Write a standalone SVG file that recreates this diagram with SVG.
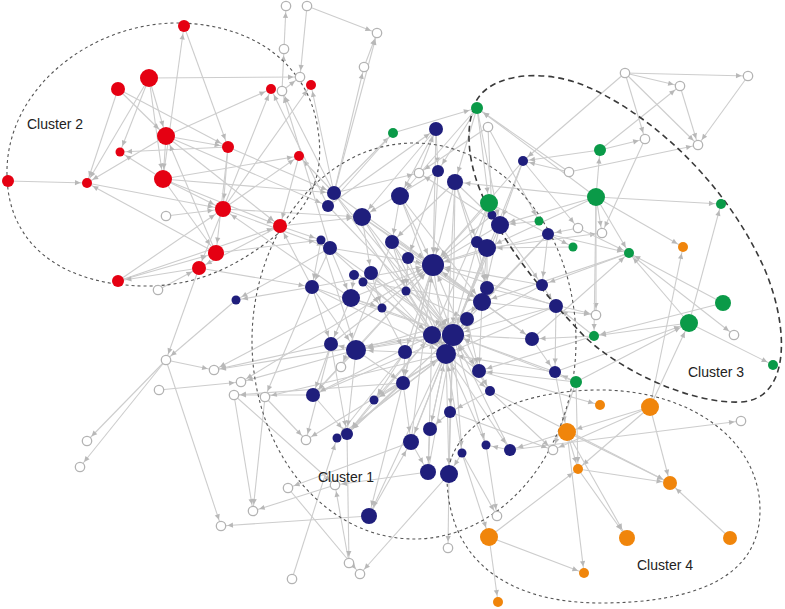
<svg xmlns="http://www.w3.org/2000/svg" width="785" height="609" viewBox="0 0 785 609">
<style>
#edges line{stroke:#cdcdcd;stroke-width:1.1}
.m5{marker-end:url(#k5)}.m7{marker-end:url(#k7)}.m9{marker-end:url(#k9)}.m11{marker-end:url(#k11)}
.cl{fill:none;stroke:#555;stroke-width:1.1;stroke-dasharray:3 3}
.cl3{fill:none;stroke:#3a3a3a;stroke-width:1.6;stroke-dasharray:6 4}
.R{fill:#e50012}.B{fill:#1f1e7c}.G{fill:#0a9a48}.O{fill:#f0850b}
.H{fill:#fff;stroke:#b3b3b3;stroke-width:1.3}
.lab{font-family:"Liberation Sans",Arial,sans-serif;font-size:14px;fill:#222}
</style>
<defs>
<marker id="k5" viewBox="-18 -4 18 8" markerWidth="18" markerHeight="8" refX="0" refY="0" orient="auto" markerUnits="userSpaceOnUse"><path d="M-12,-2.6 L-6.5,0 L-12,2.6 z" fill="#b8b8b8"/></marker>
<marker id="k7" viewBox="-18 -4 18 8" markerWidth="18" markerHeight="8" refX="0" refY="0" orient="auto" markerUnits="userSpaceOnUse"><path d="M-13.5,-2.6 L-8,0 L-13.5,2.6 z" fill="#b8b8b8"/></marker>
<marker id="k9" viewBox="-18 -4 18 8" markerWidth="18" markerHeight="8" refX="0" refY="0" orient="auto" markerUnits="userSpaceOnUse"><path d="M-15.5,-2.6 L-10,0 L-15.5,2.6 z" fill="#b8b8b8"/></marker>
<marker id="k11" viewBox="-18 -4 18 8" markerWidth="18" markerHeight="8" refX="0" refY="0" orient="auto" markerUnits="userSpaceOnUse"><path d="M-17.5,-2.6 L-12,0 L-17.5,2.6 z" fill="#b8b8b8"/></marker>
</defs>
<rect width="785" height="609" fill="#fff"/>
<g id="edges">
<line x1="184" y1="26" x2="228" y2="147" class="m7"/>
<line x1="163" y1="179" x2="184" y2="26" class="m7"/>
<line x1="149" y1="78" x2="300" y2="77" class="m5"/>
<line x1="149" y1="78" x2="87" y2="183" class="m5"/>
<line x1="149" y1="78" x2="120" y2="152" class="m5"/>
<line x1="149" y1="78" x2="163" y2="179" class="m9"/>
<line x1="149" y1="78" x2="166" y2="136" class="m9"/>
<line x1="118" y1="89" x2="87" y2="183" class="m5"/>
<line x1="118" y1="89" x2="228" y2="147" class="m7"/>
<line x1="118" y1="89" x2="166" y2="136" class="m9"/>
<line x1="166" y1="136" x2="87" y2="183" class="m5"/>
<line x1="228" y1="147" x2="120" y2="152" class="m5"/>
<line x1="163" y1="179" x2="120" y2="152" class="m5"/>
<line x1="8" y1="181" x2="87" y2="183" class="m5"/>
<line x1="216" y1="253" x2="87" y2="183" class="m5"/>
<line x1="166" y1="136" x2="271" y2="89" class="m5"/>
<line x1="223" y1="209" x2="271" y2="89" class="m5"/>
<line x1="223" y1="209" x2="311" y2="85" class="m5"/>
<line x1="163" y1="179" x2="299" y2="156" class="m5"/>
<line x1="223" y1="209" x2="299" y2="156" class="m5"/>
<line x1="166" y1="136" x2="163" y2="179" class="m9"/>
<line x1="228" y1="147" x2="223" y2="209" class="m9"/>
<line x1="228" y1="147" x2="216" y2="253" class="m9"/>
<line x1="163" y1="179" x2="223" y2="209" class="m9"/>
<line x1="163" y1="179" x2="216" y2="253" class="m9"/>
<line x1="163" y1="179" x2="280" y2="226" class="m7"/>
<line x1="166" y1="136" x2="280" y2="226" class="m7"/>
<line x1="118" y1="281" x2="216" y2="253" class="m9"/>
<line x1="118" y1="281" x2="223" y2="209" class="m9"/>
<line x1="118" y1="281" x2="280" y2="226" class="m7"/>
<line x1="158" y1="290" x2="199" y2="268" class="m7"/>
<line x1="166" y1="216" x2="223" y2="209" class="m9"/>
<line x1="280" y1="226" x2="199" y2="268" class="m7"/>
<line x1="223" y1="209" x2="199" y2="268" class="m7"/>
<line x1="216" y1="253" x2="166" y2="136" class="m9"/>
<line x1="199" y1="268" x2="118" y2="281" class="m7"/>
<line x1="87" y1="183" x2="223" y2="209" class="m9"/>
<line x1="166" y1="136" x2="228" y2="147" class="m7"/>
<line x1="299" y1="156" x2="280" y2="226" class="m7"/>
<line x1="223" y1="209" x2="362" y2="217" class="m9"/>
<line x1="280" y1="226" x2="321" y2="240" class="m5"/>
<line x1="334" y1="193" x2="299" y2="156" class="m5"/>
<line x1="334" y1="193" x2="311" y2="85" class="m5"/>
<line x1="334" y1="193" x2="282" y2="91" class="m5"/>
<line x1="328" y1="206" x2="271" y2="89" class="m5"/>
<line x1="334" y1="193" x2="364" y2="67" class="m5"/>
<line x1="334" y1="193" x2="377" y2="33" class="m5"/>
<line x1="282" y1="91" x2="284" y2="49" class="m5"/>
<line x1="284" y1="49" x2="286" y2="6" class="m5"/>
<line x1="307" y1="6" x2="377" y2="33" class="m5"/>
<line x1="307" y1="6" x2="300" y2="77" class="m5"/>
<line x1="364" y1="67" x2="377" y2="33" class="m5"/>
<line x1="282" y1="91" x2="300" y2="77" class="m5"/>
<line x1="163" y1="179" x2="334" y2="193" class="m7"/>
<line x1="166" y1="136" x2="328" y2="206" class="m7"/>
<line x1="228" y1="147" x2="334" y2="193" class="m7"/>
<line x1="223" y1="209" x2="330" y2="248" class="m7"/>
<line x1="216" y1="253" x2="321" y2="240" class="m5"/>
<line x1="280" y1="226" x2="362" y2="217" class="m9"/>
<line x1="199" y1="268" x2="312" y2="287" class="m7"/>
<line x1="312" y1="287" x2="280" y2="226" class="m7"/>
<line x1="351" y1="298" x2="223" y2="209" class="m9"/>
<line x1="330" y1="248" x2="282" y2="91" class="m5"/>
<line x1="334" y1="193" x2="393" y2="133" class="m5"/>
<line x1="328" y1="206" x2="436" y2="129" class="m7"/>
<line x1="393" y1="133" x2="328" y2="206" class="m7"/>
<line x1="236" y1="300" x2="166" y2="360" class="m5"/>
<line x1="166" y1="360" x2="87" y2="441" class="m5"/>
<line x1="166" y1="360" x2="80" y2="467" class="m5"/>
<line x1="166" y1="360" x2="221" y2="526" class="m5"/>
<line x1="199" y1="268" x2="166" y2="360" class="m5"/>
<line x1="159" y1="390" x2="241" y2="382" class="m5"/>
<line x1="166" y1="360" x2="214" y2="370" class="m5"/>
<line x1="312" y1="287" x2="236" y2="300" class="m5"/>
<line x1="330" y1="248" x2="236" y2="300" class="m5"/>
<line x1="331" y1="344" x2="214" y2="370" class="m5"/>
<line x1="313" y1="395" x2="234" y2="395" class="m5"/>
<line x1="356" y1="350" x2="241" y2="382" class="m5"/>
<line x1="265" y1="397" x2="253" y2="511" class="m5"/>
<line x1="312" y1="287" x2="265" y2="397" class="m5"/>
<line x1="331" y1="344" x2="306" y2="440" class="m5"/>
<line x1="335" y1="485" x2="253" y2="511" class="m5"/>
<line x1="288" y1="488" x2="360" y2="574" class="m5"/>
<line x1="369" y1="516" x2="221" y2="526" class="m5"/>
<line x1="292" y1="579" x2="337" y2="438" class="m5"/>
<line x1="449" y1="474" x2="360" y2="574" class="m5"/>
<line x1="349" y1="563" x2="335" y2="485" class="m5"/>
<line x1="411" y1="442" x2="288" y2="488" class="m5"/>
<line x1="347" y1="434" x2="349" y2="563" class="m5"/>
<line x1="392" y1="242" x2="341" y2="367" class="m5"/>
<line x1="405" y1="352" x2="337" y2="438" class="m5"/>
<line x1="403" y1="383" x2="347" y2="434" class="m7"/>
<line x1="428" y1="472" x2="335" y2="485" class="m5"/>
<line x1="369" y1="516" x2="411" y2="442" class="m9"/>
<line x1="351" y1="298" x2="214" y2="370" class="m5"/>
<line x1="403" y1="383" x2="234" y2="395" class="m5"/>
<line x1="446" y1="354" x2="265" y2="397" class="m5"/>
<line x1="234" y1="395" x2="253" y2="511" class="m5"/>
<line x1="234" y1="395" x2="335" y2="485" class="m5"/>
<line x1="265" y1="397" x2="306" y2="440" class="m5"/>
<line x1="433" y1="265" x2="241" y2="382" class="m5"/>
<line x1="432" y1="335" x2="214" y2="370" class="m5"/>
<line x1="446" y1="354" x2="306" y2="440" class="m5"/>
<line x1="433" y1="265" x2="369" y2="516" class="m9"/>
<line x1="453" y1="335" x2="369" y2="516" class="m9"/>
<line x1="400" y1="196" x2="433" y2="265" class="m11"/>
<line x1="400" y1="196" x2="453" y2="335" class="m11"/>
<line x1="334" y1="193" x2="433" y2="265" class="m11"/>
<line x1="334" y1="193" x2="453" y2="335" class="m11"/>
<line x1="334" y1="193" x2="446" y2="354" class="m11"/>
<line x1="328" y1="206" x2="453" y2="335" class="m11"/>
<line x1="362" y1="217" x2="453" y2="335" class="m11"/>
<line x1="362" y1="217" x2="433" y2="265" class="m11"/>
<line x1="362" y1="217" x2="482" y2="302" class="m9"/>
<line x1="362" y1="217" x2="446" y2="354" class="m11"/>
<line x1="330" y1="248" x2="453" y2="335" class="m11"/>
<line x1="330" y1="248" x2="433" y2="265" class="m11"/>
<line x1="321" y1="240" x2="446" y2="354" class="m11"/>
<line x1="392" y1="242" x2="453" y2="335" class="m11"/>
<line x1="392" y1="242" x2="446" y2="354" class="m11"/>
<line x1="438" y1="171" x2="433" y2="265" class="m11"/>
<line x1="455" y1="182" x2="453" y2="335" class="m11"/>
<line x1="455" y1="182" x2="433" y2="265" class="m11"/>
<line x1="455" y1="182" x2="446" y2="354" class="m11"/>
<line x1="436" y1="129" x2="433" y2="265" class="m11"/>
<line x1="436" y1="129" x2="400" y2="196" class="m9"/>
<line x1="436" y1="129" x2="362" y2="217" class="m9"/>
<line x1="438" y1="171" x2="362" y2="217" class="m9"/>
<line x1="455" y1="182" x2="500" y2="225" class="m9"/>
<line x1="455" y1="182" x2="392" y2="242" class="m7"/>
<line x1="492" y1="215" x2="433" y2="265" class="m11"/>
<line x1="500" y1="225" x2="453" y2="335" class="m11"/>
<line x1="500" y1="225" x2="433" y2="265" class="m11"/>
<line x1="487" y1="248" x2="453" y2="335" class="m11"/>
<line x1="487" y1="248" x2="446" y2="354" class="m11"/>
<line x1="548" y1="234" x2="453" y2="335" class="m11"/>
<line x1="548" y1="234" x2="482" y2="302" class="m9"/>
<line x1="548" y1="234" x2="433" y2="265" class="m11"/>
<line x1="487" y1="248" x2="433" y2="265" class="m11"/>
<line x1="408" y1="258" x2="446" y2="354" class="m11"/>
<line x1="408" y1="258" x2="482" y2="302" class="m9"/>
<line x1="433" y1="265" x2="446" y2="354" class="m11"/>
<line x1="433" y1="265" x2="482" y2="302" class="m9"/>
<line x1="433" y1="265" x2="403" y2="383" class="m7"/>
<line x1="433" y1="265" x2="405" y2="352" class="m7"/>
<line x1="371" y1="273" x2="453" y2="335" class="m11"/>
<line x1="371" y1="273" x2="446" y2="354" class="m11"/>
<line x1="363" y1="282" x2="432" y2="335" class="m9"/>
<line x1="312" y1="287" x2="453" y2="335" class="m11"/>
<line x1="312" y1="287" x2="433" y2="265" class="m11"/>
<line x1="312" y1="287" x2="446" y2="354" class="m11"/>
<line x1="351" y1="298" x2="433" y2="265" class="m11"/>
<line x1="351" y1="298" x2="453" y2="335" class="m11"/>
<line x1="406" y1="291" x2="446" y2="354" class="m11"/>
<line x1="487" y1="288" x2="446" y2="354" class="m11"/>
<line x1="542" y1="285" x2="453" y2="335" class="m11"/>
<line x1="542" y1="285" x2="433" y2="265" class="m11"/>
<line x1="482" y1="302" x2="432" y2="335" class="m9"/>
<line x1="556" y1="306" x2="453" y2="335" class="m11"/>
<line x1="556" y1="306" x2="446" y2="354" class="m11"/>
<line x1="467" y1="319" x2="356" y2="350" class="m11"/>
<line x1="432" y1="335" x2="356" y2="350" class="m11"/>
<line x1="453" y1="335" x2="356" y2="350" class="m11"/>
<line x1="446" y1="354" x2="356" y2="350" class="m11"/>
<line x1="532" y1="339" x2="453" y2="335" class="m11"/>
<line x1="532" y1="339" x2="433" y2="265" class="m11"/>
<line x1="479" y1="371" x2="432" y2="335" class="m9"/>
<line x1="479" y1="371" x2="433" y2="265" class="m11"/>
<line x1="555" y1="372" x2="453" y2="335" class="m11"/>
<line x1="555" y1="372" x2="446" y2="354" class="m11"/>
<line x1="490" y1="391" x2="453" y2="335" class="m11"/>
<line x1="313" y1="395" x2="453" y2="335" class="m11"/>
<line x1="313" y1="395" x2="433" y2="265" class="m11"/>
<line x1="374" y1="400" x2="446" y2="354" class="m11"/>
<line x1="450" y1="412" x2="453" y2="335" class="m11"/>
<line x1="430" y1="429" x2="446" y2="354" class="m11"/>
<line x1="411" y1="442" x2="453" y2="335" class="m11"/>
<line x1="411" y1="442" x2="433" y2="265" class="m11"/>
<line x1="486" y1="445" x2="446" y2="354" class="m11"/>
<line x1="510" y1="450" x2="453" y2="335" class="m11"/>
<line x1="462" y1="453" x2="446" y2="354" class="m11"/>
<line x1="428" y1="472" x2="453" y2="335" class="m11"/>
<line x1="449" y1="474" x2="453" y2="335" class="m11"/>
<line x1="347" y1="434" x2="432" y2="335" class="m9"/>
<line x1="337" y1="438" x2="446" y2="354" class="m11"/>
<line x1="331" y1="344" x2="433" y2="265" class="m11"/>
<line x1="356" y1="350" x2="433" y2="265" class="m11"/>
<line x1="330" y1="248" x2="351" y2="298" class="m9"/>
<line x1="321" y1="240" x2="356" y2="350" class="m11"/>
<line x1="312" y1="287" x2="356" y2="350" class="m11"/>
<line x1="400" y1="196" x2="482" y2="302" class="m9"/>
<line x1="392" y1="242" x2="482" y2="302" class="m9"/>
<line x1="363" y1="282" x2="482" y2="302" class="m9"/>
<line x1="500" y1="225" x2="482" y2="302" class="m9"/>
<line x1="487" y1="248" x2="482" y2="302" class="m9"/>
<line x1="556" y1="306" x2="433" y2="265" class="m11"/>
<line x1="523" y1="161" x2="433" y2="265" class="m11"/>
<line x1="523" y1="161" x2="446" y2="354" class="m11"/>
<line x1="523" y1="161" x2="500" y2="225" class="m9"/>
<line x1="455" y1="182" x2="487" y2="288" class="m7"/>
<line x1="432" y1="335" x2="313" y2="395" class="m7"/>
<line x1="453" y1="335" x2="347" y2="434" class="m7"/>
<line x1="446" y1="354" x2="337" y2="438" class="m5"/>
<line x1="453" y1="335" x2="411" y2="442" class="m9"/>
<line x1="446" y1="354" x2="430" y2="429" class="m7"/>
<line x1="453" y1="335" x2="450" y2="412" class="m7"/>
<line x1="432" y1="335" x2="428" y2="472" class="m9"/>
<line x1="446" y1="354" x2="449" y2="474" class="m9"/>
<line x1="453" y1="335" x2="462" y2="453" class="m5"/>
<line x1="453" y1="335" x2="486" y2="445" class="m5"/>
<line x1="446" y1="354" x2="510" y2="450" class="m7"/>
<line x1="446" y1="354" x2="490" y2="391" class="m5"/>
<line x1="453" y1="335" x2="479" y2="371" class="m7"/>
<line x1="432" y1="335" x2="374" y2="400" class="m5"/>
<line x1="356" y1="350" x2="313" y2="395" class="m7"/>
<line x1="356" y1="350" x2="331" y2="344" class="m7"/>
<line x1="351" y1="298" x2="331" y2="344" class="m7"/>
<line x1="312" y1="287" x2="331" y2="344" class="m7"/>
<line x1="356" y1="350" x2="347" y2="434" class="m7"/>
<line x1="405" y1="352" x2="403" y2="383" class="m7"/>
<line x1="403" y1="383" x2="411" y2="442" class="m9"/>
<line x1="411" y1="442" x2="428" y2="472" class="m9"/>
<line x1="450" y1="412" x2="449" y2="474" class="m9"/>
<line x1="430" y1="429" x2="428" y2="472" class="m9"/>
<line x1="462" y1="453" x2="449" y2="474" class="m9"/>
<line x1="400" y1="196" x2="392" y2="242" class="m7"/>
<line x1="362" y1="217" x2="371" y2="273" class="m7"/>
<line x1="408" y1="258" x2="406" y2="291" class="m5"/>
<line x1="371" y1="273" x2="382" y2="308" class="m5"/>
<line x1="382" y1="308" x2="405" y2="352" class="m7"/>
<line x1="406" y1="291" x2="467" y2="319" class="m7"/>
<line x1="487" y1="288" x2="467" y2="319" class="m7"/>
<line x1="482" y1="302" x2="479" y2="371" class="m7"/>
<line x1="467" y1="319" x2="479" y2="371" class="m7"/>
<line x1="556" y1="306" x2="555" y2="372" class="m7"/>
<line x1="542" y1="285" x2="556" y2="306" class="m7"/>
<line x1="548" y1="234" x2="542" y2="285" class="m7"/>
<line x1="532" y1="339" x2="555" y2="372" class="m7"/>
<line x1="479" y1="371" x2="490" y2="391" class="m5"/>
<line x1="405" y1="352" x2="374" y2="400" class="m5"/>
<line x1="403" y1="383" x2="374" y2="400" class="m5"/>
<line x1="374" y1="400" x2="347" y2="434" class="m7"/>
<line x1="313" y1="395" x2="347" y2="434" class="m7"/>
<line x1="331" y1="344" x2="313" y2="395" class="m7"/>
<line x1="354" y1="275" x2="351" y2="298" class="m9"/>
<line x1="330" y1="248" x2="312" y2="287" class="m7"/>
<line x1="321" y1="240" x2="312" y2="287" class="m7"/>
<line x1="392" y1="242" x2="406" y2="291" class="m5"/>
<line x1="477" y1="242" x2="487" y2="288" class="m7"/>
<line x1="455" y1="182" x2="477" y2="242" class="m7"/>
<line x1="438" y1="171" x2="408" y2="258" class="m7"/>
<line x1="436" y1="129" x2="438" y2="171" class="m7"/>
<line x1="500" y1="225" x2="542" y2="285" class="m7"/>
<line x1="487" y1="248" x2="487" y2="288" class="m7"/>
<line x1="482" y1="302" x2="532" y2="339" class="m7"/>
<line x1="450" y1="412" x2="430" y2="429" class="m7"/>
<line x1="510" y1="450" x2="486" y2="445" class="m5"/>
<line x1="490" y1="391" x2="450" y2="412" class="m7"/>
<line x1="363" y1="282" x2="382" y2="308" class="m5"/>
<line x1="331" y1="344" x2="347" y2="434" class="m7"/>
<line x1="356" y1="350" x2="403" y2="383" class="m7"/>
<line x1="351" y1="298" x2="382" y2="308" class="m5"/>
<line x1="489" y1="203" x2="433" y2="265" class="m11"/>
<line x1="489" y1="203" x2="432" y2="335" class="m9"/>
<line x1="489" y1="203" x2="446" y2="354" class="m11"/>
<line x1="539" y1="221" x2="500" y2="225" class="m9"/>
<line x1="573" y1="247" x2="487" y2="248" class="m9"/>
<line x1="596" y1="197" x2="500" y2="225" class="m9"/>
<line x1="596" y1="197" x2="455" y2="182" class="m9"/>
<line x1="596" y1="197" x2="487" y2="248" class="m9"/>
<line x1="629" y1="253" x2="482" y2="302" class="m9"/>
<line x1="629" y1="253" x2="542" y2="285" class="m7"/>
<line x1="594" y1="336" x2="532" y2="339" class="m7"/>
<line x1="594" y1="336" x2="556" y2="306" class="m7"/>
<line x1="576" y1="382" x2="555" y2="372" class="m7"/>
<line x1="576" y1="382" x2="479" y2="371" class="m7"/>
<line x1="576" y1="382" x2="453" y2="335" class="m11"/>
<line x1="689" y1="323" x2="594" y2="336" class="m5"/>
<line x1="723" y1="303" x2="594" y2="336" class="m5"/>
<line x1="689" y1="323" x2="773" y2="365" class="m5"/>
<line x1="689" y1="323" x2="629" y2="253" class="m5"/>
<line x1="723" y1="303" x2="629" y2="253" class="m5"/>
<line x1="629" y1="253" x2="734" y2="335" class="m5"/>
<line x1="689" y1="323" x2="721" y2="204" class="m5"/>
<line x1="650" y1="407" x2="689" y2="323" class="m9"/>
<line x1="650" y1="407" x2="683" y2="247" class="m5"/>
<line x1="596" y1="197" x2="683" y2="247" class="m5"/>
<line x1="596" y1="197" x2="629" y2="253" class="m5"/>
<line x1="596" y1="197" x2="602" y2="233" class="m5"/>
<line x1="596" y1="197" x2="596" y2="315" class="m5"/>
<line x1="596" y1="197" x2="594" y2="336" class="m5"/>
<line x1="596" y1="197" x2="721" y2="204" class="m5"/>
<line x1="596" y1="197" x2="600" y2="150" class="m7"/>
<line x1="596" y1="197" x2="477" y2="108" class="m7"/>
<line x1="600" y1="150" x2="680" y2="86" class="m5"/>
<line x1="600" y1="150" x2="645" y2="139" class="m5"/>
<line x1="600" y1="150" x2="523" y2="161" class="m5"/>
<line x1="569" y1="172" x2="523" y2="161" class="m5"/>
<line x1="569" y1="172" x2="698" y2="145" class="m5"/>
<line x1="569" y1="172" x2="477" y2="108" class="m7"/>
<line x1="625" y1="73" x2="523" y2="161" class="m5"/>
<line x1="625" y1="73" x2="748" y2="76" class="m5"/>
<line x1="625" y1="73" x2="680" y2="86" class="m5"/>
<line x1="625" y1="73" x2="698" y2="145" class="m5"/>
<line x1="625" y1="73" x2="645" y2="139" class="m5"/>
<line x1="680" y1="86" x2="698" y2="145" class="m5"/>
<line x1="748" y1="76" x2="698" y2="145" class="m5"/>
<line x1="645" y1="139" x2="602" y2="233" class="m5"/>
<line x1="393" y1="133" x2="477" y2="108" class="m7"/>
<line x1="488" y1="127" x2="419" y2="173" class="m5"/>
<line x1="419" y1="173" x2="436" y2="129" class="m7"/>
<line x1="477" y1="108" x2="489" y2="203" class="m9"/>
<line x1="477" y1="108" x2="455" y2="182" class="m9"/>
<line x1="477" y1="108" x2="438" y2="171" class="m7"/>
<line x1="477" y1="108" x2="500" y2="225" class="m9"/>
<line x1="477" y1="108" x2="400" y2="196" class="m9"/>
<line x1="488" y1="127" x2="492" y2="215" class="m5"/>
<line x1="488" y1="127" x2="539" y2="221" class="m5"/>
<line x1="548" y1="234" x2="629" y2="253" class="m5"/>
<line x1="523" y1="161" x2="578" y2="228" class="m5"/>
<line x1="487" y1="248" x2="602" y2="233" class="m5"/>
<line x1="482" y1="302" x2="596" y2="315" class="m5"/>
<line x1="487" y1="288" x2="596" y2="315" class="m5"/>
<line x1="594" y1="336" x2="479" y2="371" class="m7"/>
<line x1="489" y1="203" x2="573" y2="247" class="m5"/>
<line x1="578" y1="228" x2="548" y2="234" class="m7"/>
<line x1="578" y1="228" x2="629" y2="253" class="m5"/>
<line x1="532" y1="339" x2="629" y2="253" class="m5"/>
<line x1="555" y1="372" x2="689" y2="323" class="m9"/>
<line x1="576" y1="382" x2="689" y2="323" class="m9"/>
<line x1="500" y1="225" x2="419" y2="173" class="m5"/>
<line x1="334" y1="193" x2="419" y2="173" class="m5"/>
<line x1="650" y1="407" x2="670" y2="483" class="m7"/>
<line x1="730" y1="538" x2="670" y2="483" class="m7"/>
<line x1="578" y1="469" x2="670" y2="483" class="m7"/>
<line x1="567" y1="432" x2="670" y2="483" class="m7"/>
<line x1="650" y1="407" x2="578" y2="469" class="m5"/>
<line x1="650" y1="407" x2="567" y2="432" class="m9"/>
<line x1="489" y1="537" x2="584" y2="573" class="m5"/>
<line x1="489" y1="537" x2="498" y2="602" class="m5"/>
<line x1="489" y1="537" x2="578" y2="469" class="m5"/>
<line x1="567" y1="432" x2="584" y2="573" class="m5"/>
<line x1="567" y1="432" x2="578" y2="469" class="m5"/>
<line x1="578" y1="469" x2="627" y2="538" class="m9"/>
<line x1="567" y1="432" x2="627" y2="538" class="m9"/>
<line x1="510" y1="450" x2="741" y2="421" class="m5"/>
<line x1="490" y1="391" x2="670" y2="483" class="m7"/>
<line x1="479" y1="371" x2="600" y2="405" class="m5"/>
<line x1="650" y1="407" x2="553" y2="450" class="m5"/>
<line x1="462" y1="453" x2="489" y2="537" class="m9"/>
<line x1="462" y1="453" x2="497" y2="516" class="m5"/>
<line x1="486" y1="445" x2="497" y2="516" class="m5"/>
<line x1="449" y1="474" x2="448" y2="548" class="m5"/>
<line x1="450" y1="412" x2="553" y2="450" class="m5"/>
<line x1="490" y1="391" x2="553" y2="450" class="m5"/>
<line x1="576" y1="382" x2="553" y2="450" class="m5"/>
<line x1="576" y1="382" x2="578" y2="469" class="m5"/>
<line x1="555" y1="372" x2="567" y2="432" class="m9"/>
<line x1="567" y1="432" x2="510" y2="450" class="m7"/>
</g>
<g id="clusters">
<path class="cl" d="M7,175 C5,90 90,22 180,23 C260,25 310,70 318,130 C325,175 310,205 280,232 C240,265 200,285 150,286 C70,287 8,250 7,175 Z"/>
<ellipse class="cl" cx="414" cy="341" rx="162" ry="198"/>
<path class="cl3" d="M473,110 C480,75 540,65 590,88 C660,120 730,190 765,270 C790,330 790,400 740,402 C690,404 620,370 585,337 C540,290 500,240 480,190 C468,160 466,130 473,110 Z"/>
<path class="cl" d="M447,480 C450,420 520,390 600,390 C690,390 760,440 760,510 C760,580 690,603 600,603 C520,603 450,570 447,480 Z"/>
</g>
<g id="nodes">
<g id="r1"><circle class="R" cx="184" cy="26" r="6"/></g>
<g id="r2"><circle class="R" cx="149" cy="78" r="9"/></g>
<g id="r3"><circle class="R" cx="118" cy="89" r="7"/></g>
<g id="r4"><circle class="R" cx="166" cy="136" r="9"/></g>
<g id="r5"><circle class="R" cx="120" cy="152" r="4.5"/></g>
<g id="r6"><circle class="R" cx="228" cy="147" r="6"/></g>
<g id="r7"><circle class="R" cx="163" cy="179" r="9"/></g>
<g id="r8"><circle class="R" cx="8" cy="181" r="6"/></g>
<g id="r9"><circle class="R" cx="87" cy="183" r="5"/></g>
<g id="r10"><circle class="R" cx="223" cy="209" r="8"/></g>
<g id="r11"><circle class="R" cx="280" cy="226" r="7"/></g>
<g id="r12"><circle class="R" cx="216" cy="253" r="8"/></g>
<g id="r13"><circle class="R" cx="199" cy="268" r="7"/></g>
<g id="r14"><circle class="R" cx="118" cy="281" r="6"/></g>
<g id="r15"><circle class="R" cx="271" cy="89" r="5"/></g>
<g id="r16"><circle class="R" cx="311" cy="85" r="5"/></g>
<g id="r17"><circle class="R" cx="299" cy="156" r="5"/></g>
<g id="h1"><circle class="H" cx="286" cy="6" r="4.7"/></g>
<g id="h2"><circle class="H" cx="307" cy="6" r="4.7"/></g>
<g id="h3"><circle class="H" cx="377" cy="33" r="4.7"/></g>
<g id="h4"><circle class="H" cx="284" cy="49" r="4.7"/></g>
<g id="h5"><circle class="H" cx="364" cy="67" r="4.7"/></g>
<g id="h6"><circle class="H" cx="300" cy="77" r="4.7"/></g>
<g id="h7"><circle class="H" cx="282" cy="91" r="4.7"/></g>
<g id="h8"><circle class="H" cx="166" cy="216" r="4.7"/></g>
<g id="h9"><circle class="H" cx="158" cy="290" r="4.7"/></g>
<g id="h10"><circle class="H" cx="166" cy="360" r="4.7"/></g>
<g id="h11"><circle class="H" cx="159" cy="390" r="4.7"/></g>
<g id="h12"><circle class="H" cx="87" cy="441" r="4.7"/></g>
<g id="h13"><circle class="H" cx="80" cy="467" r="4.7"/></g>
<g id="h14"><circle class="H" cx="214" cy="370" r="4.7"/></g>
<g id="h15"><circle class="H" cx="241" cy="382" r="4.7"/></g>
<g id="h16"><circle class="H" cx="234" cy="395" r="4.7"/></g>
<g id="h17"><circle class="H" cx="265" cy="397" r="4.7"/></g>
<g id="h18"><circle class="H" cx="341" cy="367" r="4.7"/></g>
<g id="h19"><circle class="H" cx="306" cy="440" r="4.7"/></g>
<g id="h20"><circle class="H" cx="288" cy="488" r="4.7"/></g>
<g id="h21"><circle class="H" cx="253" cy="511" r="4.7"/></g>
<g id="h22"><circle class="H" cx="221" cy="526" r="4.7"/></g>
<g id="h23"><circle class="H" cx="335" cy="485" r="4.7"/></g>
<g id="h24"><circle class="H" cx="349" cy="563" r="4.7"/></g>
<g id="h25"><circle class="H" cx="360" cy="574" r="4.7"/></g>
<g id="h26"><circle class="H" cx="292" cy="579" r="4.7"/></g>
<g id="h27"><circle class="H" cx="448" cy="548" r="4.7"/></g>
<g id="h28"><circle class="H" cx="497" cy="516" r="4.7"/></g>
<g id="h29"><circle class="H" cx="553" cy="450" r="4.7"/></g>
<g id="h30"><circle class="H" cx="419" cy="173" r="4.7"/></g>
<g id="h31"><circle class="H" cx="488" cy="127" r="4.7"/></g>
<g id="h32"><circle class="H" cx="569" cy="172" r="4.7"/></g>
<g id="h33"><circle class="H" cx="578" cy="228" r="4.7"/></g>
<g id="h34"><circle class="H" cx="602" cy="233" r="4.7"/></g>
<g id="h35"><circle class="H" cx="596" cy="315" r="4.7"/></g>
<g id="h36"><circle class="H" cx="625" cy="73" r="4.7"/></g>
<g id="h37"><circle class="H" cx="680" cy="86" r="4.7"/></g>
<g id="h38"><circle class="H" cx="748" cy="76" r="4.7"/></g>
<g id="h39"><circle class="H" cx="645" cy="139" r="4.7"/></g>
<g id="h40"><circle class="H" cx="698" cy="145" r="4.7"/></g>
<g id="h41"><circle class="H" cx="734" cy="335" r="4.7"/></g>
<g id="h42"><circle class="H" cx="741" cy="421" r="4.7"/></g>
<g id="b1"><circle class="B" cx="436" cy="129" r="7"/></g>
<g id="b2"><circle class="B" cx="523" cy="161" r="5"/></g>
<g id="b3"><circle class="B" cx="438" cy="171" r="6"/></g>
<g id="b4"><circle class="B" cx="455" cy="182" r="8"/></g>
<g id="b5"><circle class="B" cx="400" cy="196" r="9"/></g>
<g id="b6"><circle class="B" cx="334" cy="193" r="7"/></g>
<g id="b7"><circle class="B" cx="328" cy="206" r="6"/></g>
<g id="b8"><circle class="B" cx="362" cy="217" r="9"/></g>
<g id="b9"><circle class="B" cx="321" cy="240" r="4.5"/></g>
<g id="b10"><circle class="B" cx="330" cy="248" r="7"/></g>
<g id="b11"><circle class="B" cx="392" cy="242" r="7"/></g>
<g id="b12"><circle class="B" cx="492" cy="215" r="4.5"/></g>
<g id="b13"><circle class="B" cx="500" cy="225" r="9"/></g>
<g id="b14"><circle class="B" cx="548" cy="234" r="6"/></g>
<g id="b15"><circle class="B" cx="477" cy="242" r="6"/></g>
<g id="b16"><circle class="B" cx="487" cy="248" r="9"/></g>
<g id="b17"><circle class="B" cx="408" cy="258" r="6"/></g>
<g id="b18"><circle class="B" cx="433" cy="265" r="11"/></g>
<g id="b19"><circle class="B" cx="354" cy="275" r="5"/></g>
<g id="b20"><circle class="B" cx="371" cy="273" r="7"/></g>
<g id="b21"><circle class="B" cx="363" cy="282" r="4.5"/></g>
<g id="b22"><circle class="B" cx="312" cy="287" r="7"/></g>
<g id="b23"><circle class="B" cx="351" cy="298" r="9"/></g>
<g id="b24"><circle class="B" cx="382" cy="308" r="4.5"/></g>
<g id="b25"><circle class="B" cx="406" cy="291" r="4.5"/></g>
<g id="b26"><circle class="B" cx="487" cy="288" r="7"/></g>
<g id="b27"><circle class="B" cx="542" cy="285" r="6"/></g>
<g id="b28"><circle class="B" cx="482" cy="302" r="9"/></g>
<g id="b29"><circle class="B" cx="556" cy="306" r="7"/></g>
<g id="b30"><circle class="B" cx="467" cy="319" r="7"/></g>
<g id="b31"><circle class="B" cx="432" cy="335" r="9"/></g>
<g id="b32"><circle class="B" cx="453" cy="335" r="11"/></g>
<g id="b33"><circle class="B" cx="331" cy="344" r="7"/></g>
<g id="b34"><circle class="B" cx="356" cy="350" r="10"/></g>
<g id="b35"><circle class="B" cx="405" cy="352" r="7"/></g>
<g id="b36"><circle class="B" cx="446" cy="354" r="10"/></g>
<g id="b37"><circle class="B" cx="532" cy="339" r="7"/></g>
<g id="b38"><circle class="B" cx="479" cy="371" r="7"/></g>
<g id="b39"><circle class="B" cx="555" cy="372" r="6"/></g>
<g id="b40"><circle class="B" cx="403" cy="383" r="7"/></g>
<g id="b41"><circle class="B" cx="490" cy="391" r="5"/></g>
<g id="b42"><circle class="B" cx="313" cy="395" r="7"/></g>
<g id="b43"><circle class="B" cx="374" cy="400" r="4.5"/></g>
<g id="b44"><circle class="B" cx="236" cy="300" r="4.5"/></g>
<g id="b45"><circle class="B" cx="450" cy="412" r="6"/></g>
<g id="b46"><circle class="B" cx="430" cy="429" r="7"/></g>
<g id="b47"><circle class="B" cx="411" cy="442" r="8"/></g>
<g id="b48"><circle class="B" cx="486" cy="445" r="4.5"/></g>
<g id="b49"><circle class="B" cx="510" cy="450" r="6"/></g>
<g id="b50"><circle class="B" cx="462" cy="453" r="4.5"/></g>
<g id="b51"><circle class="B" cx="428" cy="472" r="8"/></g>
<g id="b52"><circle class="B" cx="449" cy="474" r="9"/></g>
<g id="b53"><circle class="B" cx="347" cy="434" r="6"/></g>
<g id="b54"><circle class="B" cx="337" cy="438" r="4.5"/></g>
<g id="b55"><circle class="B" cx="369" cy="516" r="8"/></g>
<g id="g1"><circle class="G" cx="477" cy="108" r="6"/></g>
<g id="g2"><circle class="G" cx="393" cy="133" r="5"/></g>
<g id="g3"><circle class="G" cx="600" cy="150" r="6"/></g>
<g id="g4"><circle class="G" cx="489" cy="203" r="9"/></g>
<g id="g5"><circle class="G" cx="539" cy="221" r="4.5"/></g>
<g id="g6"><circle class="G" cx="573" cy="247" r="4.5"/></g>
<g id="g7"><circle class="G" cx="596" cy="197" r="9"/></g>
<g id="g8"><circle class="G" cx="721" cy="204" r="5"/></g>
<g id="g9"><circle class="G" cx="629" cy="253" r="5"/></g>
<g id="g10"><circle class="G" cx="723" cy="303" r="8"/></g>
<g id="g11"><circle class="G" cx="689" cy="323" r="9"/></g>
<g id="g12"><circle class="G" cx="594" cy="336" r="5"/></g>
<g id="g13"><circle class="G" cx="773" cy="365" r="5"/></g>
<g id="g14"><circle class="G" cx="576" cy="382" r="6"/></g>
<g id="o1"><circle class="O" cx="683" cy="247" r="5"/></g>
<g id="o2"><circle class="O" cx="600" cy="405" r="5"/></g>
<g id="o3"><circle class="O" cx="650" cy="407" r="9"/></g>
<g id="o4"><circle class="O" cx="567" cy="432" r="9"/></g>
<g id="o5"><circle class="O" cx="578" cy="469" r="5"/></g>
<g id="o6"><circle class="O" cx="670" cy="483" r="7"/></g>
<g id="o7"><circle class="O" cx="489" cy="537" r="9"/></g>
<g id="o8"><circle class="O" cx="584" cy="573" r="5"/></g>
<g id="o9"><circle class="O" cx="498" cy="602" r="5"/></g>
<g id="o10"><circle class="O" cx="627" cy="538" r="8"/></g>
<g id="o11"><circle class="O" cx="730" cy="538" r="7"/></g>
</g>
<g id="labels">
<text class="lab" x="27" y="129">Cluster 2</text>
<text class="lab" x="318" y="482">Cluster 1</text>
<text class="lab" x="688" y="377">Cluster 3</text>
<text class="lab" x="637" y="570">Cluster 4</text>
</g>
</svg>
